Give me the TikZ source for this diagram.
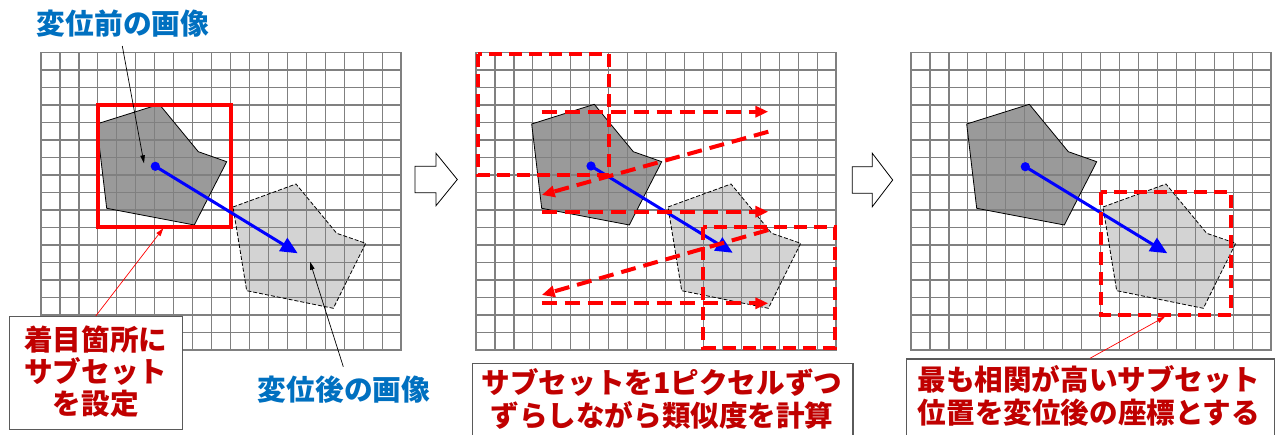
\documentclass[tikz,border=0pt]{standalone}
\usepackage{fontspec}
\newfontfamily\jpfont{Noto Sans CJK JP}
\usetikzlibrary{arrows.meta}
\definecolor{gridgray}{HTML}{808080}
\definecolor{lblblue}{HTML}{0070C0}
\definecolor{lblred}{HTML}{C00000}
\definecolor{boxgray}{HTML}{5A5A5A}
\definecolor{darkfill}{HTML}{9A9A9A}
\definecolor{lightfill}{HTML}{D3D3D3}
\tikzset{
  gridln/.style={draw=gridgray, line width=1.2bp, line cap=rect},
  darkedge/.style={draw=black, line width=0.8bp, line join=round},
  lightedge/.style={draw=black, line width=0.8bp, dash pattern=on 4bp off 2bp},
  motion/.style={draw=blue, line width=3bp, -{Triangle[length=17bp,width=15bp]}},
  subsetsolid/.style={draw=red, line width=4bp},
  subsetdash/.style={draw=red, line width=4bp, dash pattern=on 13bp off 7bp},
  scanarrow/.style={draw=red, line width=4bp, dash pattern=on 15bp off 8bp, -{Triangle[length=13bp,width=11bp]}},
  pointer/.style={draw=black, line width=0.7bp, -{Triangle[length=8bp,width=4.5bp]}},
  redpointer/.style={draw=red, line width=0.7bp, -{Triangle[length=8bp,width=5bp]}},
  bluelabel/.style={font=\jpfont\bfseries\fontsize{28.8}{33}\selectfont, text=lblblue, inner sep=0pt},
  redlabel/.style={font=\jpfont\bfseries\fontsize{28.7}{32.5}\selectfont, text=lblred, inner sep=0pt, align=center},
  notebox/.style={draw=boxgray, line width=1.5bp, fill=white, inner sep=0pt},
  bigarrow/.style={draw=black, line width=0.8bp, fill=white, line join=miter},
}
\newcommand\gridpanel{%
  \fill[darkfill] (55.7,71.5) -- (118.3,51.8) -- (157.3,99.2) -- (185.7,109.2) -- (153.3,172.5) -- (65.7,155.8) -- cycle;
  \fill[lightfill] (192,154.5) -- (255,131.5) -- (295.7,180.8) -- (324.7,190.8) -- (292.3,255.8) -- (205.7,238.2) -- cycle;
  \foreach \i in {0,...,19} \draw[gridln] (\i*18.95,0) -- (\i*18.95,297.5);
  \foreach \j in {0,...,17} \draw[gridln] (0,\j*17.5) -- (360,\j*17.5);
  \draw[darkedge] (55.7,71.5) -- (118.3,51.8) -- (157.3,99.2) -- (185.7,109.2) -- (153.3,172.5) -- (65.7,155.8) -- cycle;
  \draw[lightedge] (192,154.5) -- (255,131.5) -- (295.7,180.8) -- (324.7,190.8) -- (292.3,255.8) -- (205.7,238.2) -- cycle;
}
\begin{document}
\begin{tikzpicture}[x=1bp,y=-1bp]
\useasboundingbox (0,0) rectangle (1275,435);
\fill[white] (0,0) rectangle (1275,435);
\clip (0,0) rectangle (1275,435);

% ---------- panel 1 ----------
\begin{scope}[shift={(41,52.5)}]
  \gridpanel
  \draw[subsetsolid] (56.9,52.5) rectangle (189.5,175);
  \coordinate (dotA) at (114.3,113.8);
  \coordinate (tipA) at (256.7,200.8);
  \draw[motion] (dotA) -- (tipA);
  \fill[blue] (dotA) circle (4.6);
  \coordinate (subA) at (122.3,175.8);
\end{scope}

\node[bluelabel] (before) at (123,24) {変位前の画像};
\coordinate (beforeS) at (122.3,46);
\coordinate (beforeT) at (144,163.3);
\draw[pointer] (beforeS) -- (beforeT);

\node[bluelabel] (after) at (344,390) {変位後の画像};
\coordinate (afterS) at (343.3,366.7);
\coordinate (afterT) at (310,261.7);
\draw[pointer] (afterS) -- (afterT);

\node[notebox, minimum width=173bp, minimum height=112.6bp] (box1) at (95.8,373) {};
\node[redlabel] (note1) at (95.8,371.5) {着目箇所に\\サブセット\\を設定};
\draw[redpointer] (box1.north) -- (subA);

% ---------- big arrows ----------
\draw[bigarrow] (415,166.3) -- (436,166.3) -- (436,153.3) -- (457.3,179.5) -- (436,205.7) -- (436,192.7) -- (415,192.7) -- cycle;
\draw[bigarrow] (852.3,166.7) -- (872.3,166.7) -- (872.3,153.3) -- (892.7,180) -- (872.3,206.7) -- (872.3,193.3) -- (852.3,193.3) -- cycle;

% ---------- panel 2 ----------
\begin{scope}[shift={(476,52.5)}]
  \gridpanel
  \coordinate (dotB) at (115,113.5);
  \coordinate (tipB) at (256.7,200.3);
  \draw[motion] (dotB) -- (tipB);
  \fill[blue] (dotB) circle (4.6);
  \draw[subsetdash] (1.5,1.5) rectangle (132.6,122.5);
  \draw[subsetdash] (227.4,175) rectangle (358.5,295.5);
  \coordinate (r1s) at (65.7,59.2);  \coordinate (r1e) at (292.3,59.2);
  \coordinate (d1s) at (292.3,79.2); \coordinate (d1e) at (65.7,142.5);
  \coordinate (r2s) at (65.7,159.2); \coordinate (r2e) at (292.3,159.2);
  \coordinate (d2s) at (292.3,177.5); \coordinate (d2e) at (65.7,242.5);
  \coordinate (r3s) at (65.7,250.8); \coordinate (r3e) at (292.3,250.8);
  \draw[scanarrow] (r1s) -- (r1e);
  \draw[scanarrow] (d1s) -- (d1e);
  \draw[scanarrow] (r2s) -- (r2e);
  \draw[scanarrow] (d2s) -- (d2e);
  \draw[scanarrow] (r3s) -- (r3e);
\end{scope}

\node[notebox, anchor=north west, minimum width=380.6bp, minimum height=90bp] (box2) at (471.7,362.7) {};
\node[redlabel] (note2) at (662,399) {サブセットを1ピクセルずつ\\ずらしながら類似度を計算};

% ---------- panel 3 ----------
\begin{scope}[shift={(911,52.5)}]
  \gridpanel
  \coordinate (dotC) at (114.3,114.2);
  \coordinate (tipC) at (256.3,200.8);
  \draw[motion] (dotC) -- (tipC);
  \fill[blue] (dotC) circle (4.6);
  \draw[subsetdash] (189.5,140) rectangle (320.2,262.5);
  \coordinate (subC) at (254,264.2);
\end{scope}

\node[notebox, anchor=north west, minimum width=368.3bp, minimum height=90bp] (box3) at (905.7,358.3) {};
\node[redlabel] (note3) at (1089,395.9) {最も相関が高いサブセット\\位置を変位後の座標とする};
\coordinate (box3p) at (1090,358.3);
\draw[redpointer] (box3p) -- (subC);
\end{tikzpicture}
\end{document}
